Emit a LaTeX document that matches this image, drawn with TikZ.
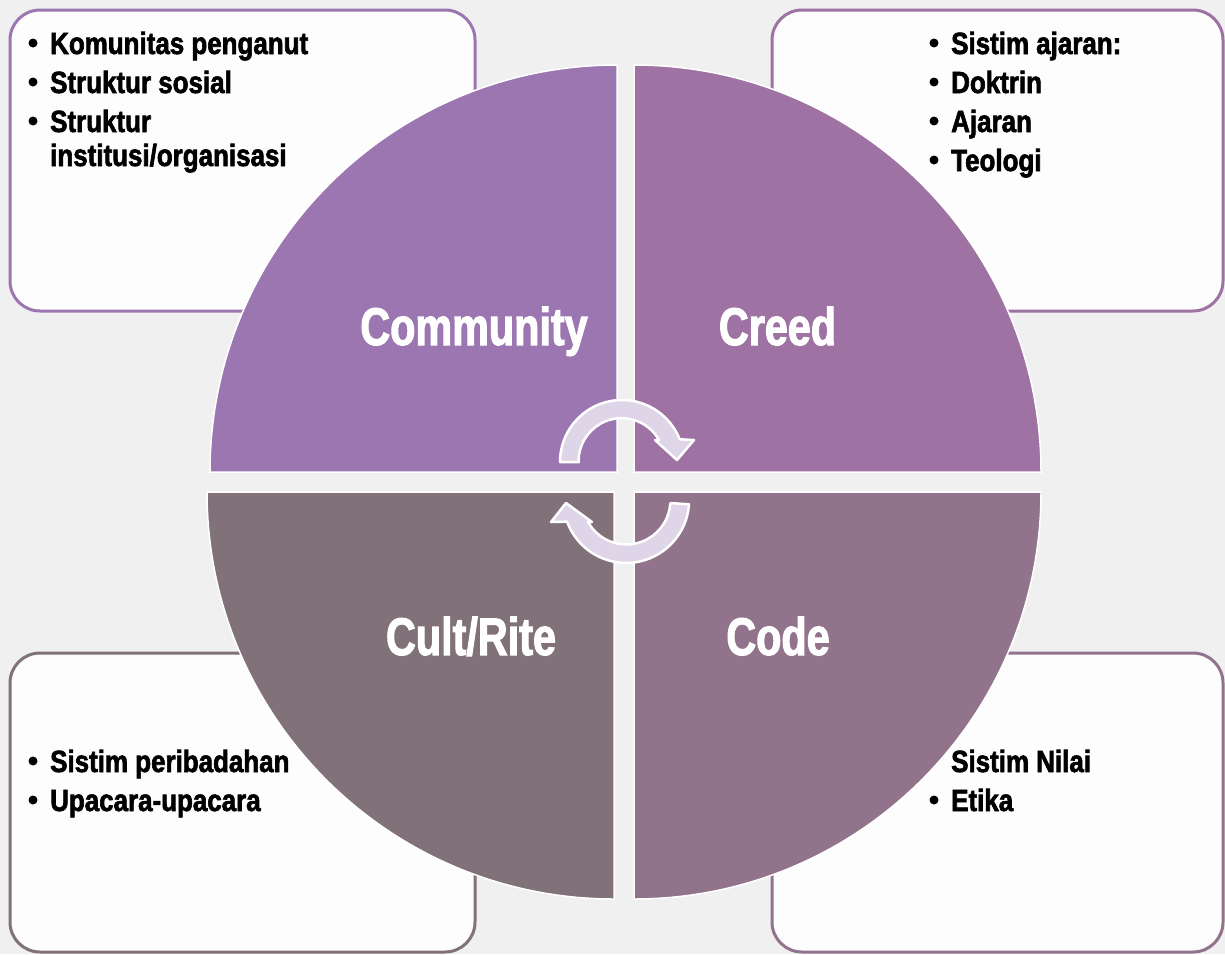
\documentclass[tikz,border=0pt]{standalone}
\usepackage{fontspec}
\setmainfont{Liberation Sans}[FakeStretch=0.845, BoldFeatures={FakeBold=2}]
\newfontfamily\labelfont{Liberation Sans}[FakeStretch=0.78, BoldFeatures={FakeBold=2}]

\definecolor{bgc}{RGB}{240,240,240}
\definecolor{boxfill}{RGB}{253,253,253}
\definecolor{commc}{RGB}{155,118,177}
\definecolor{creedc}{RGB}{158,114,162}
\definecolor{cultc}{RGB}{128,114,120}
\definecolor{codec}{RGB}{146,115,140}
\definecolor{arrowc}{RGB}{222,214,232}

\begin{document}
\begin{tikzpicture}[x=1pt,y=-1pt,
  box/.style={line width=3pt, rounded corners=30pt, fill=boxfill},
  quad/.style={draw=white, line width=1.5pt},
  qlabel/.style={text=white, font=\labelfont\bfseries\fontsize{53}{60}\selectfont, anchor=base, inner sep=0pt},
  item/.style={font=\bfseries\fontsize{30.7}{34}\selectfont, anchor=base west, inner sep=0pt},
  cyc/.style={fill=arrowc, draw=white, line width=2.5pt, line join=round}]

% page background
\fill[bgc] (0,0) rectangle (1225,954);
\useasboundingbox (0,0) rectangle (1225,954);

% text panels in the four corners
\draw[box, draw=commc]  (10,10)  rectangle (475,311);
\draw[box, draw=creedc] (772,10) rectangle (1223,311);
\draw[box, draw=cultc]  (10,653) rectangle (475,952);
\draw[box, draw=codec]  (772,653) rectangle (1223,952);

% four quarter-discs
\draw[quad, fill=commc]  (617,472) -- (210,472) arc[start angle=180, end angle=270, radius=407] -- cycle;
\draw[quad, fill=creedc] (634,472) -- (634,65)  arc[start angle=270, end angle=360, radius=407] -- cycle;
\draw[quad, fill=cultc]  (614,492) -- (614,899) arc[start angle=90,  end angle=180, radius=407] -- cycle;
\draw[quad, fill=codec]  (634,492) -- (1041,492) arc[start angle=0,  end angle=90,  radius=407] -- cycle;

% quarter labels
\node[qlabel] (community) at (474,345) {Community};
\node[qlabel] (creed)     at (777.5,345) {Creed};
\node[qlabel] (cult)      at (471,655) {Cult/Rite};
\node[qlabel] (code)      at (778,655) {Code};

% circular arrows in the middle
\draw[cyc] (579,462) -- (560,462) arc[start angle=180, end angle=338.5, radius=62]
  -- (694,440) -- (677,460) -- (655,440) -- (659,440)
  arc[start angle=330.5, end angle=180, radius=43] -- cycle;
\draw[cyc] (671,503.1) -- (689,504.3) arc[start angle=4, end angle=159.8, radius=63]
  -- (551,522) -- (566,503) -- (592,522) -- (588,522)
  arc[start angle=150.7, end angle=4, radius=44] -- cycle;

% Community panel
\fill (33,43) circle (4.5);
\node[item] (c1) at (50,54) {Komunitas penganut};
\fill (33,82) circle (4.5);
\node[item] (c2) at (50,93) {Struktur sosial};
\fill (33,121) circle (4.5);
\node[item] (c3) at (50,132) {Struktur};
\node[item] (c4) at (50,166) {institusi/organisasi};

% Creed panel
\fill (934,43) circle (4.5);
\node[item] (r1) at (951,54) {Sistim ajaran:};
\fill (934,82) circle (4.5);
\node[item] (r2) at (951,93) {Doktrin};
\fill (934,121) circle (4.5);
\node[item] (r3) at (951,132) {Ajaran};
\fill (934,160) circle (4.5);
\node[item] (r4) at (951,171) {Teologi};

% Cult/Rite panel
\fill (33,761) circle (4.5);
\node[item] (k1) at (50,772) {Sistim peribadahan};
\fill (33,800) circle (4.5);
\node[item] (k2) at (50,811) {Upacara-upacara};

% Code panel
\node[item] (d1) at (951,772) {Sistim Nilai};
\fill (934,800) circle (4.5);
\node[item] (d2) at (951,811) {Etika};
\end{tikzpicture}
\end{document}
